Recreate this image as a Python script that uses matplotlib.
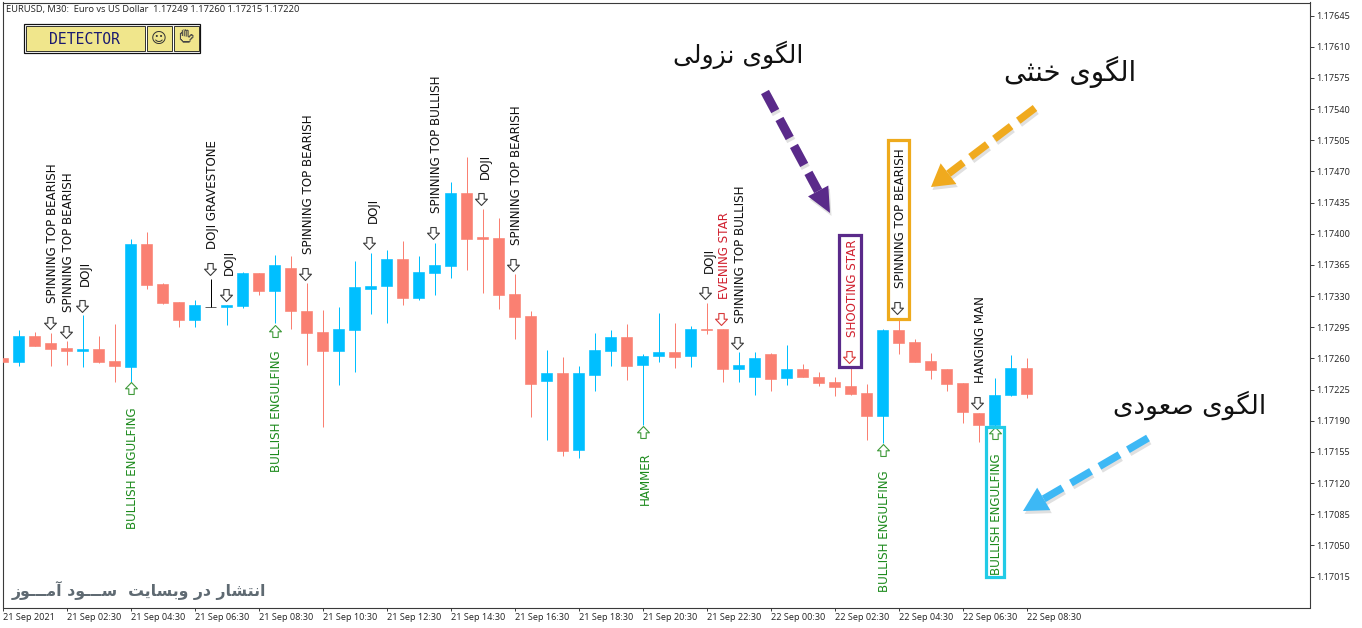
import numpy as np
import matplotlib
matplotlib.use("Agg")
import matplotlib.pyplot as plt
from matplotlib import font_manager
from matplotlib.patches import Rectangle, Polygon, Ellipse
from matplotlib.path import Path

opens = [1.17260,1.17256,1.17285,1.17277,1.17272,1.17268,1.17271,1.17257,1.17250,1.17388,1.17343,1.17323,1.17303,1.17318,1.17318,1.17319,1.17356,1.17336,1.17361,1.17313,1.17290,1.17268,1.17292,1.17338,1.17341,1.17372,1.17328,1.17356,1.17364,1.17446,1.17396,1.17395,1.17332,1.17307,1.17235,1.17244,1.17157,1.17241,1.17268,1.17284,1.17252,1.17263,1.17267,1.17263,1.17293,1.17293,1.17248,1.17239,1.17265,1.17238,1.17248,1.17239,1.17233,1.17229,1.17221,1.17195,1.17292,1.17278,1.17257,1.17248,1.17232,1.17199,1.17185,1.17219,1.17249]
highs = [1.17260,1.17292,1.17290,1.17288,1.17279,1.17309,1.17285,1.17299,1.17394,1.17402,1.17345,1.17323,1.17326,1.17349,1.17320,1.17357,1.17356,1.17376,1.17375,1.17345,1.17314,1.17318,1.17369,1.17378,1.17382,1.17392,1.17375,1.17390,1.17458,1.17486,1.17428,1.17418,1.17355,1.17313,1.17269,1.17262,1.17251,1.17288,1.17292,1.17299,1.17265,1.17311,1.17300,1.17296,1.17322,1.17293,1.17267,1.17267,1.17266,1.17275,1.17254,1.17245,1.17239,1.17250,1.17231,1.17293,1.17304,1.17282,1.17266,1.17248,1.17232,1.17199,1.17238,1.17264,1.17260]
lows = [1.17256,1.17251,1.17274,1.17251,1.17252,1.17250,1.17255,1.17233,1.17233,1.17338,1.17321,1.17295,1.17295,1.17318,1.17297,1.17317,1.17331,1.17300,1.17293,1.17252,1.17183,1.17230,1.17245,1.17310,1.17300,1.17320,1.17326,1.17331,1.17350,1.17359,1.17333,1.17315,1.17282,1.17194,1.17168,1.17150,1.17148,1.17223,1.17251,1.17236,1.17185,1.17256,1.17249,1.17250,1.17287,1.17233,1.17233,1.17219,1.17223,1.17230,1.17239,1.17229,1.17218,1.17219,1.17168,1.17165,1.17265,1.17256,1.17237,1.17223,1.17187,1.17166,1.17180,1.17218,1.17215]
closes = [1.17256,1.17285,1.17274,1.17271,1.17268,1.17271,1.17256,1.17251,1.17388,1.17342,1.17322,1.17303,1.17320,1.17318,1.17320,1.17356,1.17336,1.17365,1.17313,1.17288,1.17268,1.17293,1.17340,1.17341,1.17372,1.17328,1.17357,1.17365,1.17446,1.17394,1.17394,1.17331,1.17306,1.17231,1.17244,1.17156,1.17244,1.17269,1.17284,1.17251,1.17263,1.17267,1.17262,1.17293,1.17292,1.17248,1.17252,1.17260,1.17237,1.17248,1.17239,1.17232,1.17228,1.17220,1.17195,1.17292,1.17277,1.17256,1.17247,1.17231,1.17200,1.17185,1.17219,1.17249,1.17220]

time_labels = ["21 Sep 2021","21 Sep 02:30","21 Sep 04:30","21 Sep 06:30","21 Sep 08:30","21 Sep 10:30",
               "21 Sep 12:30","21 Sep 14:30","21 Sep 16:30","21 Sep 18:30","21 Sep 20:30","21 Sep 22:30",
               "22 Sep 00:30","22 Sep 02:30","22 Sep 04:30","22 Sep 06:30","22 Sep 08:30"]
price_ticks = [1.17645,1.17610,1.17575,1.17540,1.17505,1.17470,1.17435,1.17400,1.17365,1.17330,
               1.17295,1.17260,1.17225,1.17190,1.17155,1.17120,1.17085,1.17050,1.17015]

pattern_bar = [3,4,5,8,13,14,17,19,23,27,30,32,40,44,45,46,53,55,56,61,62]
pattern_name = ["SPINNING TOP BEARISH","SPINNING TOP BEARISH","DOJI","BULLISH ENGULFING","DOJI GRAVESTONE","DOJI",
                "BULLISH ENGULFING","SPINNING TOP BEARISH","DOJI","SPINNING TOP BULLISH","DOJI","SPINNING TOP BEARISH",
                "HAMMER","DOJI","EVENING STAR","SPINNING TOP BULLISH","SHOOTING STAR","BULLISH ENGULFING",
                "SPINNING TOP BEARISH","HANGING MAN","BULLISH ENGULFING"]
pattern_price = [1.17300,1.17290,1.17319,1.17227,1.17360,1.17331,1.17291,1.17355,1.17390,1.17401,1.17439,1.17365,
                 1.17177,1.17333,1.17304,1.17277,1.17262,1.17157,1.17317,1.17210,1.17176]
pattern_kind = ["n","n","n","u","n","n","u","n","n","n","n","n","u","n","r","n","r","u","n","n","u"]

title_text = "EURUSD, M30:  Euro vs US Dollar  1.17249 1.17260 1.17215 1.17220"
label_bear = "الگوی نزولی"
label_neutral = "الگوی خنثی"
label_bull = "الگوی صعودی"
label_site = "انتشار در وبسایت  ســـود آمـــوز"

# Presentation forms: isolated, final, initial, medial (matplotlib does no Arabic shaping)
FORMS = {"ا":(0xFE8D,0xFE8E),"آ":(0xFE81,0xFE82),"د":(0xFEA9,0xFEAA),"ر":(0xFEAD,0xFEAE),"ز":(0xFEAF,0xFEB0),"و":(0xFEED,0xFEEE),
         "ب":(0xFE8F,0xFE90,0xFE91,0xFE92),"ت":(0xFE95,0xFE96,0xFE97,0xFE98),"ث":(0xFE99,0xFE9A,0xFE9B,0xFE9C),
         "خ":(0xFEA5,0xFEA6,0xFEA7,0xFEA8),"س":(0xFEB1,0xFEB2,0xFEB3,0xFEB4),"ش":(0xFEB5,0xFEB6,0xFEB7,0xFEB8),
         "ص":(0xFEB9,0xFEBA,0xFEBB,0xFEBC),"ع":(0xFEC9,0xFECA,0xFECB,0xFECC),"ل":(0xFEDD,0xFEDE,0xFEDF,0xFEE0),
         "م":(0xFEE1,0xFEE2,0xFEE3,0xFEE4),"ن":(0xFEE5,0xFEE6,0xFEE7,0xFEE8),"ی":(0xFBFC,0xFBFD,0xFBFE,0xFBFF),
         "گ":(0xFB92,0xFB93,0xFB94,0xFB95)}

def shape(s):
    out = []
    for k, ch in enumerate(s):
        if ch not in FORMS:
            out.append(ch)
            continue
        f = FORMS[ch]
        p = s[k-1] if k else " "
        n = s[k+1] if k+1 < len(s) else " "
        jp = p == "ـ" or (p in FORMS and len(FORMS[p]) == 4)
        jn = len(f) == 4 and (n == "ـ" or n in FORMS)
        if jp and jn:
            out.append(chr(f[3]))
        elif jp:
            out.append(chr(f[1]))
        elif jn:
            out.append(chr(f[2]))
        else:
            out.append(chr(f[0]))
    return "".join(reversed(out))

BLUE, SALMON, FRAME = "#00BFFF", "#FA8072", "#3a3a3a"
PX = 0.72
W, H = 1362, 628
UI_FONT = "Open Sans"
UI_SIZE = 6.6

fig = plt.figure(figsize=(W/100, H/100), dpi=100, facecolor="white")
L, R, T, B = 2.5, 1309.5, 2.5, 607.5
ax = fig.add_axes([L/W, (H-B)/H, (R-L)/W, (B-T)/H])

x = np.arange(len(opens))
o, h, l, c = map(np.array, (opens, highs, lows, closes))
colors = [BLUE if cc > oo else (SALMON if cc < oo else "#000000") for oo, cc in zip(o, c)]
ax.vlines(x, l, h, colors=colors, lw=1.0*PX, zorder=2, snap=True)
ax.bar(x, np.abs(c-o), bottom=np.minimum(o, c), width=0.69, color=colors, edgecolor=colors, lw=0.6*PX, zorder=3)

ax.set_xlim(-0.03, (R-2.8)/16)
ax.set_ylim(1.169802, 1.176596)
ax.yaxis.tick_right()
ax.set_yticks(price_ticks)
ax.set_yticklabels([f"{p:.5f}" for p in price_ticks], fontfamily=UI_FONT, fontsize=UI_SIZE, color="#222222")
ax.set_xticks(x[::4])
ax.set_xticklabels(time_labels, fontfamily=UI_FONT, fontsize=UI_SIZE, color="#222222", ha="left")
ax.tick_params(axis="y", length=3, width=0.7, color=FRAME, pad=1.5)
ax.tick_params(axis="x", length=2.5, width=0.7, color=FRAME, pad=1.5)
for s in ax.spines.values():
    s.set_color(FRAME)
    s.set_linewidth(1.1*PX)

# Pattern markers and their labels
arrow_path = Path([(-0.45,1),(0.45,1),(0.45,0.05),(1,0.05),(0,-1),(-1,0.05),(-0.45,0.05),(-0.45,1)], closed=True)
up_path = Path(arrow_path.vertices*np.array([1,-1]), closed=True)
EDGE = {"n":"#3a3a3a","r":"#d83a3a","u":"#3f9a3a"}
TEXT = {"n":"#111111","r":"#d0202e","u":"#1c8a1c"}
for i, name, p, kind in zip(pattern_bar, pattern_name, pattern_price, pattern_kind):
    up = kind == "u"
    ax.plot([i-(0 if up else 0.09)], [p], marker=up_path if up else arrow_path, ms=8.6, mfc="white",
            mec=EDGE[kind], mew=0.8, ls="none", zorder=4, clip_on=False)
    ax.annotate(name, xy=(i, p), xytext=(2.0*PX, (-20 if up else 20)*PX), textcoords="offset points",
                rotation=90, ha="center", va="top" if up else "bottom",
                fontsize=8.6, color=TEXT[kind], zorder=5)

# Overlay in pixel coordinates for the hand-drawn call-outs
ov = fig.add_axes([0, 0, 1, 1], facecolor="none")
ov.set_xlim(0, W)
ov.set_ylim(H, 0)
ov.axis("off")

def box(x0, y0, x1, y1, col):
    ov.add_patch(Rectangle((x0, y0), x1-x0, y1-y0, fill=False, ec=col, lw=3.2*PX, zorder=6))

box(839, 235, 861, 367, "#5a2a8a")
box(888, 140, 909, 319, "#eeaa1c")
box(985.5, 427, 1003.5, 576.5, "#22cbe6")

def callout(x0, y0, x1, y1, col, lw, head_l, head_w, dash):
    d = np.array([x1-x0, y1-y0], float)
    u = d/np.hypot(*d)
    v = np.array([-u[1], u[0]])
    tip = np.array([x1, y1], float)
    base = tip-u*head_l
    for off, cc, a, z in (((1.5, 3), "#555555", 0.18, 6), ((0, 0), col, 1, 7)):
        off = np.array(off)
        ov.plot([x0+off[0], base[0]+off[0]], [y0+off[1], base[1]+off[1]], color=cc, alpha=a, lw=lw*PX,
                dashes=dash, dash_capstyle="butt", zorder=z)
        ov.add_patch(Polygon([tip+off, base+v*head_w/2+off, base-v*head_w/2+off], closed=True, fc=cc, ec="none", alpha=a, zorder=z))

callout(765, 92, 830, 213, "#5a2a8a", 9, 25, 23, (2.4, 1.0))
callout(1035, 108, 931, 187, "#f0aa1e", 7.5, 22, 26, (2.8, 1.2))
callout(1148, 438, 1023, 511, "#3db8f5", 7.5, 24, 26, (3.1, 1.3))

txt = dict(family="DejaVu Sans", color="#111111", ha="center", va="center", zorder=8)
ov.text(738, 55, shape(label_bear), fontsize=18, **txt)
ov.text(1070, 72, shape(label_neutral), fontsize=19.8, **txt)
ov.text(1190, 405, shape(label_bull), fontsize=18.9, **txt)
ov.text(139, 590, shape(label_site), fontsize=11.3, family="DejaVu Sans", fontweight="bold",
        color="#5f6a72", ha="center", va="center", zorder=8)

ov.text(6.5, 9.5, title_text, family=UI_FONT, fontsize=6.75, color="#222222", ha="left", va="center", zorder=8)

# Detector panel
ov.add_patch(Rectangle((23.5, 23.5), 176.5, 29, fc="white", ec="#111111", lw=1.2*PX, zorder=8))
for (bx, bw) in ((25.5, 119), (146.5, 25), (173.5, 25)):
    ov.add_patch(Rectangle((bx, 25.5), bw, 25, fc="#f0e68c", ec="#222222", lw=0.9*PX, zorder=9))
ov.text(84, 39, "DETECTOR", family="DejaVu Sans Mono", fontsize=10.6, color="#1a1a70", ha="center", va="center", zorder=10)
ov.text(158.5, 38, "\u263A", family="DejaVu Sans", fontsize=11, color="#333333", ha="center", va="center", zorder=10)

# Hand symbol: use an installed family if one carries it, otherwise draw it
hand_family = None
for fe in font_manager.fontManager.ttflist:
    try:
        if 0x270B in font_manager.get_font(fe.fname).get_charmap():
            hand_family = fe.name
            break
    except Exception:
        pass
if hand_family:
    ov.text(185.5, 38, "\u270B", family=hand_family, fontsize=11, color="#444444", ha="center", va="center", zorder=10)
else:
    for x0, y0, x1, y1 in ((181.5, 40, 179, 33), (183.5, 38, 181.5, 31.5), (185.5, 38, 185, 31),
                           (187.5, 38, 188.5, 32), (189, 41, 192.5, 37)):
        ov.plot([x0, x1], [y0, y1], color="#555555", lw=2*PX, solid_capstyle="round", zorder=10)
    ov.add_patch(Ellipse((185.5, 41.5), 8, 8, fc="#f5efb5", ec="#555555", lw=0.8*PX, zorder=11))

fig.savefig("out.png", dpi=100)
